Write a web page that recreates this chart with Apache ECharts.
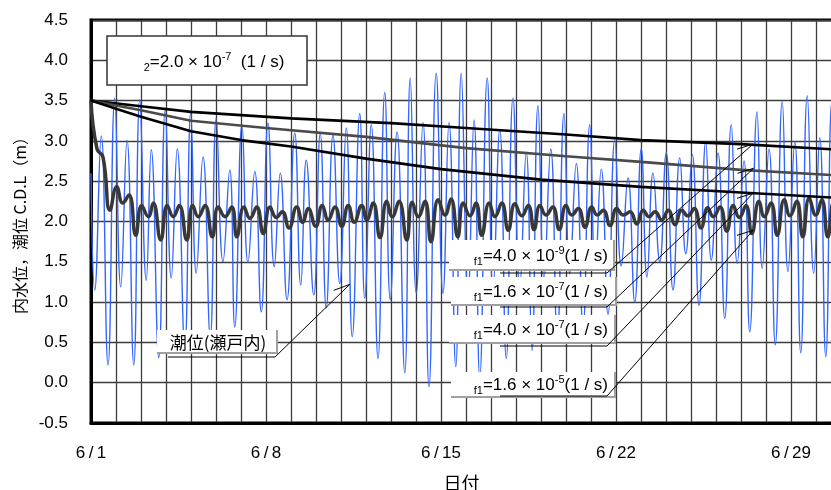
<!DOCTYPE html>
<html>
<head>
<meta charset="utf-8">
<script src="https://cdn.jsdelivr.net/npm/echarts@6/dist/echarts.min.js"></script>
<style>
  html, body { margin: 0; padding: 0; background: #fff; }
  #main { width: 831px; height: 490px; }
</style>
</head>
<body>
<div id="main"></div>
<script>
// days counted from 6/1 0:00
var dayTicks = [0, 7, 14, 21, 28];
var dayLabels = ['6\u2009/\u20091', '6\u2009/\u20098', '6\u2009/\u200915', '6\u2009/\u200922', '6\u2009/\u200929'];

// tide (瀬戸内) turning points
var tideDay = [0.00,0.15,0.41,0.68,0.95,1.19,1.44,1.71,1.95,2.21,2.41,2.71,2.97,3.21,3.45,3.75,3.99,4.21,4.48,4.77,
  5.01,5.28,5.55,5.75,6.04,6.28,6.55,6.81,7.08,7.33,7.57,7.84,8.15,8.39,8.61,8.91,9.17,9.41,9.68,9.95,
  10.21,10.45,10.75,10.95,11.21,11.48,11.75,11.97,12.24,12.55,12.77,13.01,13.28,13.52,13.81,14.08,14.32,14.59,14.81,15.08,
  15.32,15.55,15.85,16.08,16.35,16.61,16.88,17.15,17.41,17.64,17.88,18.12,18.39,18.65,18.92,19.15,19.41,19.68,19.95,20.17,
  20.41,20.68,20.95,21.21,21.48,21.75,22.01,22.24,22.48,22.75,23.01,23.28,23.55,23.79,24.05,24.32,24.59,24.81,25.08,25.35,
  25.61,25.85,26.12,26.35,26.64,26.85,27.12,27.37,27.65,27.88,28.15,28.39,28.65,28.91,29.15,29.39,29.64,29.90];
var tideLevel = [2.60,1.15,3.06,0.22,3.53,1.19,3.01,0.22,3.51,1.27,2.89,0.31,3.38,1.30,2.90,0.44,3.35,1.36,2.80,0.57,
  3.28,1.50,2.64,0.69,3.20,1.49,2.62,0.88,3.22,1.44,2.60,1.03,3.10,1.21,2.76,1.09,3.09,0.93,3.07,1.23,
  3.16,0.57,3.34,1.05,3.20,0.30,3.60,1.03,3.11,0.12,3.78,1.11,3.23,-0.05,3.84,1.11,3.23,0.20,3.84,1.10,
  3.26,0.07,3.78,1.15,3.14,0.30,3.53,1.20,2.86,0.40,3.44,1.30,2.90,0.55,3.34,1.35,2.72,0.70,3.20,1.40,
  2.65,0.85,3.01,1.45,2.54,1.00,2.90,1.31,2.60,1.50,2.85,1.15,2.79,1.60,2.83,0.96,2.99,1.52,2.85,0.80,
  3.20,1.48,2.75,0.63,3.36,1.42,2.90,0.47,3.49,1.38,2.99,0.37,3.56,1.36,3.04,0.32,3.50,1.30];

// inner water level, f1=1.6e-5: first drop, then one turn per tide turn (from tide index 3), a bit later
var innerStartDay = [0, 0.24, 0.48];
var innerStartLevel = [3.50, 2.90, 2.80];
var innerLag = 0.08;
var innerLevel = [2.14,2.43,2.23,2.33,1.83,2.20,2.06,2.23,1.77,2.20,2.06,2.20,1.77,2.20,2.06,2.20,1.81,2.18,2.06,2.18,
  1.81,2.18,2.04,2.18,1.85,2.18,2.05,2.12,1.92,2.18,1.99,2.16,1.94,2.20,2.02,2.18,1.94,2.20,1.99,2.20,
  2.02,2.23,1.80,2.25,2.06,2.25,1.77,2.24,2.06,2.25,1.75,2.27,2.08,2.28,1.81,2.23,2.07,2.23,1.83,2.23,
  2.06,2.23,1.89,2.22,2.07,2.20,1.90,2.20,2.08,2.18,1.90,2.20,2.08,2.16,1.93,2.18,2.08,2.14,1.95,2.16,
  2.08,2.12,1.97,2.14,2.06,2.12,2.02,2.14,1.96,2.14,2.07,2.16,1.92,2.17,2.06,2.18,1.88,2.20,2.05,2.20,
  1.85,2.25,2.06,2.23,1.83,2.27,2.07,2.25,1.81,2.29,2.08,2.27,1.81,2.25,2.00];

// slow decline cases
var f1aDay = [0, 2, 4, 8, 12, 15, 19, 22, 26, 30];          // 4.0e-9
var f1aLevel = [3.50, 3.43, 3.36, 3.28, 3.22, 3.16, 3.08, 3.01, 2.96, 2.89];
var f1bDay = [0, 1, 2, 4, 7, 11, 15, 19, 22, 26, 30];       // 1.6e-7
var f1bLevel = [3.50, 3.44, 3.38, 3.25, 3.16, 3.05, 2.91, 2.81, 2.74, 2.64, 2.57];
var f1cDay = [0, 1, 2, 4, 6, 8, 11, 14, 18, 22, 26, 30];    // 4.0e-7
var f1cLevel = [3.50, 3.40, 3.30, 3.12, 3.01, 2.93, 2.78, 2.65, 2.52, 2.43, 2.36, 2.29];

function pairs(xs, ys) { return xs.map(function (x, i) { return [x, ys[i]]; }); }

var innerData = pairs(innerStartDay, innerStartLevel);
innerLevel.forEach(function (v, i) { innerData.push([tideDay[i + 3] + innerLag, v]); });

var chart = echarts.init(document.getElementById('main'));
var font = 'Liberation Sans, Arial, sans-serif';
var cjk = 'Noto Sans CJK JP, sans-serif';

chart.setOption({
  animation: false,
  backgroundColor: '#fff',
  grid: { left: 91, top: 20, right: -10, bottom: 67, outerBoundsMode: 'none',
    show: true, borderColor: '#000', borderWidth: 3 },
  xAxis: {
    type: 'value', min: 0, max: 30, interval: 1,
    name: '日付', nameLocation: 'middle', nameGap: 51,
    nameTextStyle: { fontFamily: cjk, fontSize: 18, color: '#000', padding: [0, 9, 0, 0] },
    axisLine: { onZero: false, lineStyle: { color: '#000', width: 3 } },
    axisTick: { show: false },
    axisLabel: {
      margin: 22, color: '#000', fontFamily: font, fontSize: 17,
      formatter: function (v) { var k = dayTicks.indexOf(v); return k < 0 ? '' : dayLabels[k]; }
    },
    splitLine: { show: true, lineStyle: { color: '#3c3c3c', width: 1.3 } }
  },
  yAxis: {
    type: 'value', min: -0.5, max: 4.5, interval: 0.5,
    name: '内水位，潮位 C.D.L（m）', nameLocation: 'middle', nameGap: 63, nameRotate: 90,
    nameTextStyle: { fontFamily: cjk, fontSize: 16, color: '#000' },
    axisLine: { show: true, onZero: false, lineStyle: { color: '#000', width: 3 } },
    axisTick: { show: false },
    axisLabel: { margin: 23, color: '#000', fontFamily: font, fontSize: 17,
      formatter: function (v) { return v.toFixed(1); } },
    splitLine: { show: true, lineStyle: { color: '#3c3c3c', width: 1.3 } }
  },
  series: [
    { name: '潮位(瀬戸内)', type: 'line', data: pairs(tideDay, tideLevel), showSymbol: false,
      smooth: 0.5, lineStyle: { color: '#3366ff', width: 1.4 }, z: 2 },
    { name: 'f1=1.6e-5', type: 'line', data: innerData, showSymbol: false,
      smooth: 0.5, lineStyle: { color: '#383838', width: 3.5 }, z: 3 },
    { name: 'f1=4.0e-9', type: 'line', data: pairs(f1aDay, f1aLevel), showSymbol: false,
      lineStyle: { color: '#000', width: 2.6 }, z: 4 },
    { name: 'f1=1.6e-7', type: 'line', data: pairs(f1bDay, f1bLevel), showSymbol: false,
      lineStyle: { color: '#4a4a4a', width: 2.6 }, z: 4 },
    { name: 'f1=4.0e-7', type: 'line', data: pairs(f1cDay, f1cLevel), showSymbol: false,
      lineStyle: { color: '#000', width: 2.6 }, z: 4 }
  ]
});

// annotations
var rich = {
  s: { fontFamily: font, fontSize: 11, lineHeight: 22, verticalAlign: 'bottom', padding: [8, 0, 0, 0] },
  n: { fontFamily: font, fontSize: 17, lineHeight: 22 },
  p: { fontFamily: font, fontSize: 11, lineHeight: 22, verticalAlign: 'top', padding: [0, 0, 9, 0] }
};

var f1Texts = ['4.0 × 10', '1.6 × 10', '4.0 × 10', '1.6 × 10'];
var f1Exps = ['-9', '-7', '-7', '-5'];
var f1Tips = [[26.48, 2.96], [26.5, 2.66], [26.48, 2.35], [26.48, 1.89]];
var f1Boxes = [[449, 240, 165, 30], [451, 277, 165, 28], [449, 315, 166, 28], [451, 372, 164, 25]];
var f1Under = [273, 307, 346, 396];

var g = [];
function addLabel(box, text, underY, ux0, ux1, tipVal) {
  var tip = chart.convertToPixel({ gridIndex: 0 }, tipVal);
  var x = box[0], y = box[1], w = box[2], h = box[3];
  g.push({ type: 'rect', z: 100, shape: { x: x, y: y, width: w, height: h }, style: { fill: '#fff' } });
  g.push({ type: 'polyline', z: 101, shape: { points: [[x, y + h], [x + w, y + h], [x + w, y]] },
    style: { stroke: '#a0a0a0', lineWidth: 2, fill: null } });
  g.push({ type: 'text', z: 102, style: { text: text, rich: rich, x: ux1 + 1, y: y + h / 2 + 1,
    align: 'right', verticalAlign: 'middle', fill: '#000' } });
  g.push({ type: 'polyline', z: 103, shape: { points: [[ux0, underY], [ux1, underY], tip] },
    style: { stroke: '#000', lineWidth: 1, fill: null } });
  g.push({ type: 'line', z: 103, shape: { x1: tip[0], y1: tip[1], x2: tip[0] - 16, y2: tip[1] + 5 },
    style: { stroke: '#000', lineWidth: 1 } });
}

for (var i = 0; i < 4; i++) {
  addLabel(f1Boxes[i], '{s|f1}{n|=' + f1Texts[i] + '}{p|' + f1Exps[i] + '}{n|(1 / s)}',
    f1Under[i], 500, 607, f1Tips[i]);
}

// tide label
(function () {
  var tip = chart.convertToPixel({ gridIndex: 0 }, [10.35, 1.22]);
  g.push({ type: 'rect', z: 100, shape: { x: 157, y: 330, width: 120, height: 23 }, style: { fill: '#fff' } });
  g.push({ type: 'polyline', z: 101, shape: { points: [[157, 353], [277, 353], [277, 330]] },
    style: { stroke: '#a0a0a0', lineWidth: 2, fill: null } });
  g.push({ type: 'text', z: 102, style: { text: '潮位(瀬戸内)', x: 218, y: 343, align: 'center',
    verticalAlign: 'middle', fontFamily: cjk, fontSize: 17, fill: '#000' } });
  g.push({ type: 'polyline', z: 103, shape: { points: [[168, 357], [275, 357], tip] },
    style: { stroke: '#000', lineWidth: 1, fill: null } });
  g.push({ type: 'line', z: 103, shape: { x1: tip[0], y1: tip[1], x2: tip[0] - 16, y2: tip[1] + 6 },
    style: { stroke: '#000', lineWidth: 1 } });
})();

// parameter box
g.push({ type: 'rect', z: 100, shape: { x: 107, y: 36, width: 200, height: 49 },
  style: { fill: '#fff', stroke: '#333', lineWidth: 1.5 } });
g.push({ type: 'text', z: 102, style: { text: '{s|2}{n|=2.0 × 10}{p|-7}{n|  (1 / s)}', rich: rich,
  x: 214, y: 62, align: 'center', verticalAlign: 'middle', fill: '#000' } });

chart.setOption({ graphic: g });
</script>
</body>
</html>
